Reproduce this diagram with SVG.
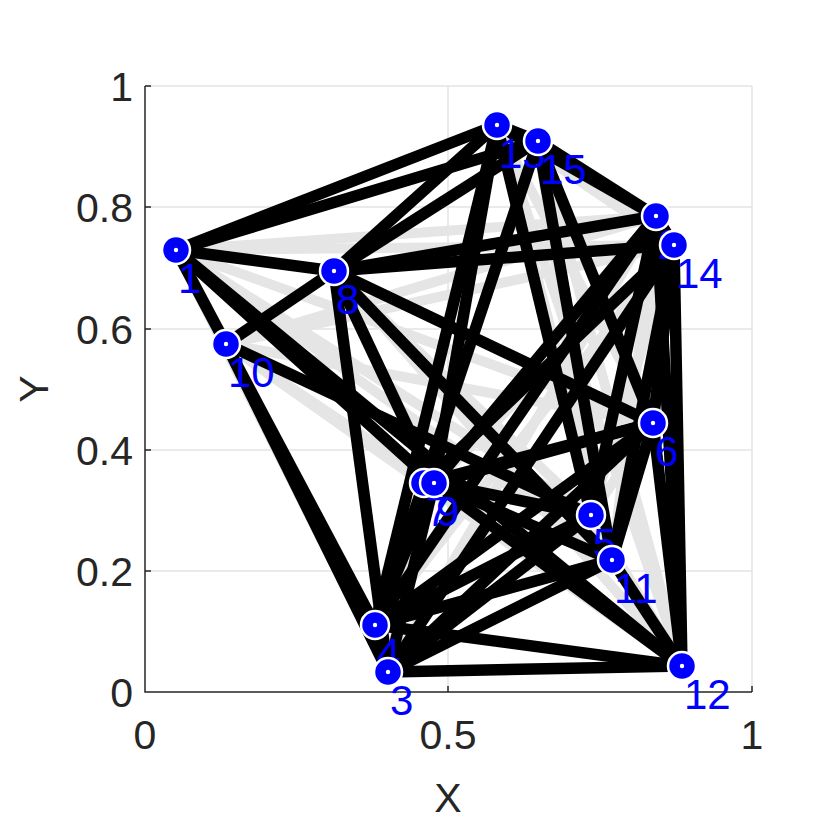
<svg xmlns="http://www.w3.org/2000/svg" width="830" height="830" viewBox="0 0 830 830">
<style>
.grid{stroke:#e3e3e3;stroke-width:1.5;fill:none}
.axis{stroke:#262626;stroke-width:1.5;fill:none}
.tick{font-family:"Liberation Sans",Arial,sans-serif;font-size:41px;fill:#262626}
.g{stroke:#e5e5e5;stroke-width:10;stroke-linecap:butt}
.b{stroke:#000;stroke-width:11.5;stroke-linecap:butt}
.lbl{font-family:"Liberation Sans",Arial,sans-serif;font-size:42px;fill:#0000ff}
.mk{fill:#0000ff;stroke:#fff;stroke-width:2.5}
.dot{fill:#fff}
</style>
<rect width="830" height="830" fill="#fff"/>
<g id="axes">
<line class="grid" x1="448" y1="86" x2="448" y2="692"/>
<line class="grid" x1="752" y1="86" x2="752" y2="692"/>
<line class="grid" x1="145" y1="86" x2="752" y2="86"/>
<line class="grid" x1="145" y1="207" x2="752" y2="207"/>
<line class="grid" x1="145" y1="329" x2="752" y2="329"/>
<line class="grid" x1="145" y1="450" x2="752" y2="450"/>
<line class="grid" x1="145" y1="571" x2="752" y2="571"/>
<polyline class="axis" points="145,86 145,692 752,692"/>
<path class="axis" d="M145,86h6M145,207h6M145,329h6M145,450h6M145,571h6M448,692v-6M752,692v-6"/>
<g class="tick" text-anchor="end">
<text x="133" y="707">0</text>
<text x="133" y="586">0.2</text>
<text x="133" y="465">0.4</text>
<text x="133" y="344">0.6</text>
<text x="133" y="222">0.8</text>
<text x="133" y="101">1</text>
</g>
<g class="tick" text-anchor="middle">
<text x="145" y="749">0</text>
<text x="448" y="749">0.5</text>
<text x="752" y="749">1</text>
<text x="448" y="812">X</text>
<text x="48" y="389" transform="rotate(-90 48 389)">Y</text>
</g>
</g>
<g id="edges">
<g class="g">
<line x1="176" y1="250" x2="656" y2="216"/>
<line x1="176" y1="250" x2="674" y2="245"/>
<line x1="176" y1="250" x2="653" y2="423"/>
<line x1="176" y1="250" x2="591" y2="515"/>
<line x1="176" y1="250" x2="388" y2="672"/>
<line x1="176" y1="250" x2="612" y2="560"/>
<line x1="226" y1="344" x2="656" y2="216"/>
<line x1="226" y1="344" x2="674" y2="245"/>
<line x1="226" y1="344" x2="653" y2="423"/>
<line x1="226" y1="344" x2="434" y2="483"/>
<line x1="226" y1="344" x2="682" y2="666"/>
<line x1="334" y1="271" x2="591" y2="515"/>
<line x1="334" y1="271" x2="682" y2="666"/>
<line x1="424" y1="483" x2="591" y2="515"/>
<line x1="424" y1="483" x2="612" y2="560"/>
<line x1="388" y1="672" x2="424" y2="483"/>
<line x1="591" y1="515" x2="682" y2="666"/>
<line x1="653" y1="423" x2="591" y2="515"/>
<line x1="656" y1="216" x2="612" y2="560"/>
<line x1="674" y1="245" x2="591" y2="515"/>
<line x1="497" y1="125" x2="653" y2="423"/>
<line x1="538" y1="141" x2="591" y2="515"/>
<line x1="497" y1="125" x2="612" y2="560"/>
<line x1="434" y1="483" x2="674" y2="245"/>
<line x1="497" y1="125" x2="682" y2="666"/>
<line x1="538" y1="141" x2="682" y2="666"/>
<line x1="424" y1="483" x2="682" y2="666"/>
<line x1="497" y1="125" x2="674" y2="245"/>
<line x1="538" y1="141" x2="674" y2="245"/>
<line x1="656" y1="216" x2="653" y2="423"/>
<line x1="591" y1="515" x2="612" y2="560"/>
<line x1="388" y1="672" x2="656" y2="216"/>
<line x1="375" y1="625" x2="674" y2="245"/>
</g>
<g class="b">
<line x1="176" y1="250" x2="497" y2="125"/>
<line x1="176" y1="250" x2="538" y2="141"/>
<line x1="176" y1="250" x2="334" y2="271"/>
<line x1="176" y1="250" x2="375" y2="625"/>
<line x1="176" y1="250" x2="434" y2="483"/>
<line x1="176" y1="250" x2="682" y2="666"/>
<line x1="226" y1="344" x2="334" y2="271"/>
<line x1="226" y1="344" x2="591" y2="515"/>
<line x1="226" y1="344" x2="388" y2="672"/>
<line x1="334" y1="271" x2="497" y2="125"/>
<line x1="334" y1="271" x2="538" y2="141"/>
<line x1="334" y1="271" x2="656" y2="216"/>
<line x1="334" y1="271" x2="674" y2="245"/>
<line x1="334" y1="271" x2="388" y2="672"/>
<line x1="334" y1="271" x2="434" y2="483"/>
<line x1="334" y1="271" x2="653" y2="423"/>
<line x1="334" y1="271" x2="612" y2="560"/>
<line x1="497" y1="125" x2="538" y2="141"/>
<line x1="497" y1="125" x2="656" y2="216"/>
<line x1="497" y1="125" x2="434" y2="483"/>
<line x1="497" y1="125" x2="591" y2="515"/>
<line x1="497" y1="125" x2="375" y2="625"/>
<line x1="538" y1="141" x2="656" y2="216"/>
<line x1="538" y1="141" x2="612" y2="560"/>
<line x1="538" y1="141" x2="653" y2="423"/>
<line x1="538" y1="141" x2="424" y2="483"/>
<line x1="656" y1="216" x2="674" y2="245"/>
<line x1="656" y1="216" x2="434" y2="483"/>
<line x1="656" y1="216" x2="375" y2="625"/>
<line x1="656" y1="216" x2="682" y2="666"/>
<line x1="656" y1="216" x2="591" y2="515"/>
<line x1="674" y1="245" x2="424" y2="483"/>
<line x1="674" y1="245" x2="388" y2="672"/>
<line x1="674" y1="245" x2="682" y2="666"/>
<line x1="674" y1="245" x2="612" y2="560"/>
<line x1="674" y1="245" x2="653" y2="423"/>
<line x1="653" y1="423" x2="434" y2="483"/>
<line x1="653" y1="423" x2="375" y2="625"/>
<line x1="653" y1="423" x2="388" y2="672"/>
<line x1="653" y1="423" x2="682" y2="666"/>
<line x1="653" y1="423" x2="612" y2="560"/>
<line x1="653" y1="423" x2="424" y2="483"/>
<line x1="591" y1="515" x2="434" y2="483"/>
<line x1="591" y1="515" x2="375" y2="625"/>
<line x1="591" y1="515" x2="388" y2="672"/>
<line x1="612" y1="560" x2="434" y2="483"/>
<line x1="612" y1="560" x2="375" y2="625"/>
<line x1="612" y1="560" x2="388" y2="672"/>
<line x1="612" y1="560" x2="682" y2="666"/>
<line x1="682" y1="666" x2="388" y2="672"/>
<line x1="682" y1="666" x2="375" y2="625"/>
<line x1="682" y1="666" x2="434" y2="483"/>
<line x1="375" y1="625" x2="434" y2="483"/>
<line x1="388" y1="672" x2="434" y2="483"/>
<line x1="375" y1="625" x2="388" y2="672"/>
<line x1="375" y1="625" x2="424" y2="483"/>
</g>
</g>
<g id="labels" class="lbl">
<text x="178" y="293">1</text>
<text x="658" y="259">2</text>
<text x="390" y="715">3</text>
<text x="377" y="668">4</text>
<text x="593" y="558">5</text>
<text x="655" y="466">6</text>
<text x="426" y="526">7</text>
<text x="436" y="526">9</text>
<text x="336" y="314">8</text>
<text x="228" y="387">10</text>
<text x="614" y="603">11</text>
<text x="684" y="709">12</text>
<text x="499" y="168">13</text>
<text x="540" y="184">15</text>
<text x="676" y="288">14</text>
</g>
<g id="n1"><circle class="mk" cx="176" cy="250" r="14"/><circle class="dot" cx="176" cy="250" r="2.2"/></g>
<g id="n2"><circle class="mk" cx="656" cy="216" r="14"/><circle class="dot" cx="656" cy="216" r="2.2"/></g>
<g id="n3"><circle class="mk" cx="388" cy="672" r="14"/><circle class="dot" cx="388" cy="672" r="2.2"/></g>
<g id="n4"><circle class="mk" cx="375" cy="625" r="14"/><circle class="dot" cx="375" cy="625" r="2.2"/></g>
<g id="n5"><circle class="mk" cx="591" cy="515" r="14"/><circle class="dot" cx="591" cy="515" r="2.2"/></g>
<g id="n6"><circle class="mk" cx="653" cy="423" r="14"/><circle class="dot" cx="653" cy="423" r="2.2"/></g>
<g id="n7"><circle class="mk" cx="424" cy="483" r="14"/><circle class="dot" cx="424" cy="483" r="2.2"/></g>
<g id="n8"><circle class="mk" cx="334" cy="271" r="14"/><circle class="dot" cx="334" cy="271" r="2.2"/></g>
<g id="n9"><circle class="mk" cx="434" cy="483" r="14"/><circle class="dot" cx="434" cy="483" r="2.2"/></g>
<g id="n10"><circle class="mk" cx="226" cy="344" r="14"/><circle class="dot" cx="226" cy="344" r="2.2"/></g>
<g id="n11"><circle class="mk" cx="612" cy="560" r="14"/><circle class="dot" cx="612" cy="560" r="2.2"/></g>
<g id="n12"><circle class="mk" cx="682" cy="666" r="14"/><circle class="dot" cx="682" cy="666" r="2.2"/></g>
<g id="n13"><circle class="mk" cx="497" cy="125" r="14"/><circle class="dot" cx="497" cy="125" r="2.2"/></g>
<g id="n14"><circle class="mk" cx="674" cy="245" r="14"/><circle class="dot" cx="674" cy="245" r="2.2"/></g>
<g id="n15"><circle class="mk" cx="538" cy="141" r="14"/><circle class="dot" cx="538" cy="141" r="2.2"/></g>
</svg>
